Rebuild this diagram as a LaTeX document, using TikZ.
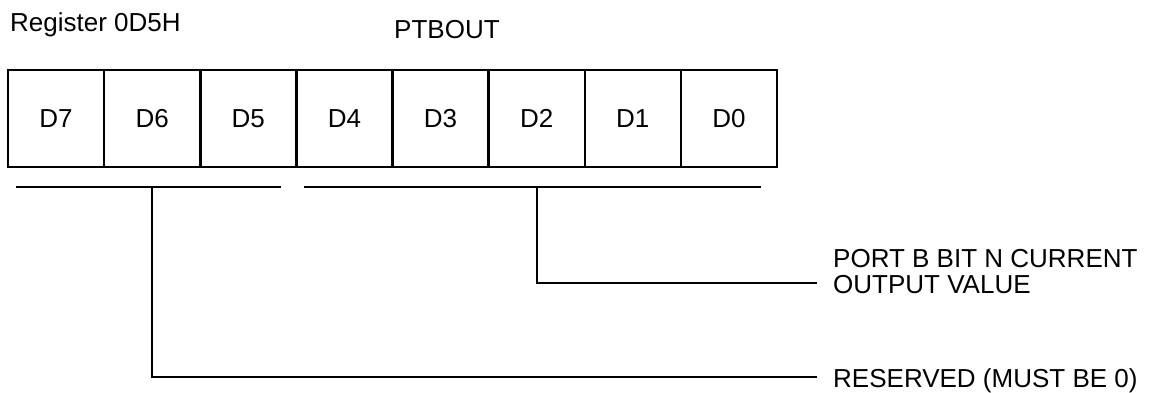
\documentclass[tikz,border=0pt]{standalone}
\usepackage{fontspec}
\setmainfont{Liberation Sans}
\newcommand{\fs}{\fontsize{26}{26}\selectfont}
\begin{document}
\begin{tikzpicture}[x=1pt,y=-1pt,
  cell/.style={draw, line width=2.5pt, minimum width=96.125pt, minimum height=97pt, inner sep=0pt, outer sep=0pt, font=\fs},
  conn/.style={line width=1.3pt},
  lbl/.style={inner sep=0pt, anchor=base west, font=\fs}]
\useasboundingbox (0,0) rectangle (1152,392);
% titles
\node[lbl] (reg) at (10,31) {Register 0D5H};
\node[lbl] (name) at (394,38) {PTBOUT};
% cells
\foreach \i/\b in {0/7,1/6,2/5,3/4,4/3,5/2,6/1,7/0}{
  \node[cell] (d\b) at ({8+96.125*(\i+0.5)},118.5) {D\b};
}
% bracket lines
\coordinate (la) at (16,187);
\coordinate (lb) at (281,187);
\coordinate (ra) at (304,187);
\coordinate (rb) at (761,187);
\coordinate (lt) at (152,187);
\coordinate (rt) at (537,187);
\draw[conn] (la) -- (lb);
\draw[conn] (ra) -- (rb);
% labels
\node[lbl] (port1) at (833,267) {PORT B BIT N CURRENT};
\node[lbl] (port2) at (833,293) {OUTPUT VALUE};
\node[lbl] (res) at (833,387) {RESERVED (MUST BE 0)};
\coordinate (pend) at ([xshift=-16pt,yshift=10pt]port2.base west);
\coordinate (rend) at ([xshift=-16pt,yshift=10pt]res.base west);
% connectors
\draw[conn] (rt) |- (pend);
\draw[conn] (lt) |- (rend);
\end{tikzpicture}
\end{document}
